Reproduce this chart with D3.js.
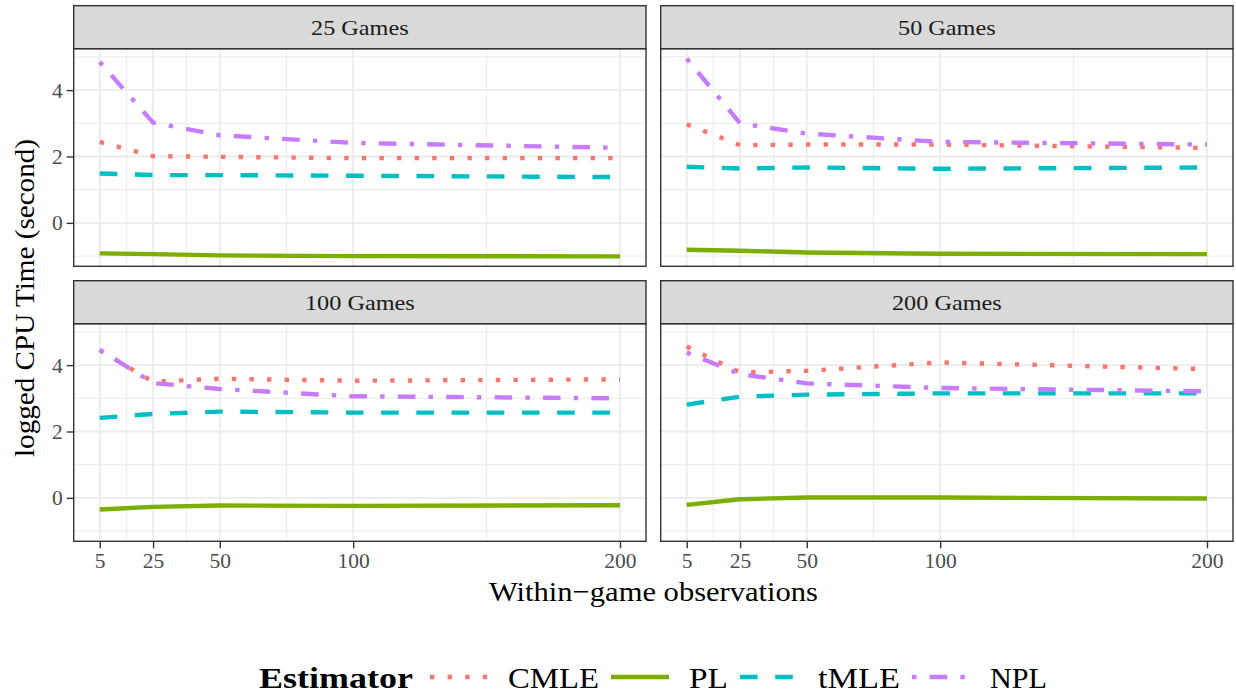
<!DOCTYPE html>
<html>
<head>
<meta charset="utf-8">
<script src="https://cdn.jsdelivr.net/npm/d3@7"></script>
<style>
  html, body { margin: 0; padding: 0; background: #fff; }
  svg { display: block; }
  text { font-family: "Liberation Serif", "Times New Roman", serif; }
</style>
</head>
<body>
<svg id="chart" width="1236" height="694"></svg>
<script>
// ---------------- data ----------------
const facets = ["25 Games", "50 Games", "100 Games", "200 Games"];
const estimators = ["CMLE", "PL", "tMLE", "NPL"];
const observations = [5, 25, 50, 100, 200];
const xTickLabels = ["5", "25", "50", "100", "200"];
const xMinorBreaks = [15, 37.5, 75, 150];
const yTickLabels = ["0", "2", "4"];
const yMinorBreaks = [-1, 1, 3, 5];

// one row per facet (25, 50, 100, 200 games), one value per observation count
const cmle = [
  [2.44, 2.01, 1.99, 1.95, 1.95],
  [2.97, 2.34, 2.36, 2.36, 2.26],
  [4.45, 3.50, 3.59, 3.53, 3.57],
  [4.56, 3.78, 3.83, 4.08, 3.88]
];
const pl = [
  [-0.92, -0.94, -0.98, -1.00, -1.01],
  [-0.81, -0.84, -0.89, -0.93, -0.94],
  [-0.35, -0.27, -0.23, -0.24, -0.22],
  [-0.21, -0.04, 0.01, 0.01, -0.02]
];
const tmle = [
  [1.49, 1.44, 1.44, 1.42, 1.38],
  [1.69, 1.64, 1.67, 1.63, 1.67],
  [2.41, 2.53, 2.60, 2.57, 2.57],
  [2.81, 3.05, 3.11, 3.15, 3.15]
];
const npl = [
  [4.85, 3.02, 2.64, 2.41, 2.26],
  [4.95, 3.00, 2.69, 2.44, 2.36],
  [4.46, 3.46, 3.28, 3.06, 3.00],
  [4.38, 3.73, 3.45, 3.31, 3.21]
];
const seriesValues = [cmle, pl, tmle, npl];

// ---------------- styles ----------------
const colors = ["#F8766D", "#7CAE00", "#00BFC4", "#C77CFF"];
const LW = 4.4;
const dashes = [
  `${LW} ${3 * LW}`,                       // dotted
  null,                                    // solid
  `${4 * LW} ${4 * LW}`,                   // dashed
  `${LW} ${3 * LW} ${4 * LW} ${3 * LW}`    // dotdash
];

// ---------------- layout ----------------
const svg = d3.select("#chart");
const colX = [73.7, 660.7];
const panelW = 572.3;
const stripTop = [5.7, 280.7];
const stripH = 43;
const panelH = 217.6;

const allVals = seriesValues.flat(2);
const yMin = d3.min(allVals), yMax = d3.max(allVals);
const yPad = (yMax - yMin) * 0.05;
const xPad = (d3.max(observations) - d3.min(observations)) * 0.05;

facets.forEach((name, fi) => {
  const col = fi % 2, row = Math.floor(fi / 2);
  const px = colX[col];
  const sy = stripTop[row];
  const py = sy + stripH;

  const x = d3.scaleLinear()
    .domain([d3.min(observations) - xPad, d3.max(observations) + xPad])
    .range([px, px + panelW]);
  const y = d3.scaleLinear()
    .domain([yMin - yPad, yMax + yPad])
    .range([py + panelH, py]);

  const g = svg.append("g");

  // panel background
  g.append("rect").attr("x", px).attr("y", py).attr("width", panelW).attr("height", panelH)
    .attr("fill", "#fff");

  // minor grid
  g.selectAll(null).data(xMinorBreaks).join("line")
    .attr("x1", d => x(d)).attr("x2", d => x(d)).attr("y1", py).attr("y2", py + panelH)
    .attr("stroke", "#EBEBEB").attr("stroke-width", 1);
  g.selectAll(null).data(yMinorBreaks).join("line")
    .attr("y1", d => y(d)).attr("y2", d => y(d)).attr("x1", px).attr("x2", px + panelW)
    .attr("stroke", "#EBEBEB").attr("stroke-width", 1);
  // major grid
  g.selectAll(null).data(observations).join("line")
    .attr("x1", d => x(d)).attr("x2", d => x(d)).attr("y1", py).attr("y2", py + panelH)
    .attr("stroke", "#EBEBEB").attr("stroke-width", 1.8);
  g.selectAll(null).data(yTickLabels.map(Number)).join("line")
    .attr("y1", d => y(d)).attr("y2", d => y(d)).attr("x1", px).attr("x2", px + panelW)
    .attr("stroke", "#EBEBEB").attr("stroke-width", 1.8);

  // series
  const clipId = "clip" + fi;
  svg.append("clipPath").attr("id", clipId).append("rect")
    .attr("x", px).attr("y", py).attr("width", panelW).attr("height", panelH);
  const line = d3.line().x((d, i) => x(observations[i])).y(d => y(d));
  estimators.forEach((est, si) => {
    g.append("path")
      .attr("d", line(seriesValues[si][fi]))
      .attr("fill", "none")
      .attr("stroke", colors[si])
      .attr("stroke-width", LW)
      .attr("stroke-linecap", "butt")
      .attr("stroke-linejoin", "round")
      .attr("stroke-dasharray", dashes[si])
      .attr("clip-path", `url(#${clipId})`);
  });

  // panel border
  g.append("rect").attr("x", px).attr("y", py).attr("width", panelW).attr("height", panelH)
    .attr("fill", "none").attr("stroke", "#333333").attr("stroke-width", 1.4);

  // strip
  g.append("rect").attr("x", px).attr("y", sy).attr("width", panelW).attr("height", stripH)
    .attr("fill", "#D9D9D9").attr("stroke", "#333333").attr("stroke-width", 1.4);
  g.append("text").attr("x", px + panelW / 2).attr("y", sy + stripH / 2 + 7.5)
    .attr("text-anchor", "middle").attr("font-size", 22).attr("fill", "#1A1A1A")
    .attr("textLength", name.length * 12.2).attr("lengthAdjust", "spacingAndGlyphs")
    .text(name);

  // y axis (left column)
  if (col === 0) {
    const ya = d3.axisLeft(y).tickValues(yTickLabels.map(Number))
      .tickFormat((d, i) => yTickLabels[i]).tickSize(7).tickPadding(4);
    const ag = g.append("g").attr("transform", `translate(${px},0)`).call(ya);
    ag.select(".domain").remove();
    ag.selectAll(".tick line").attr("stroke", "#333333").attr("stroke-width", 1.4);
    ag.selectAll(".tick text").attr("font-size", 21.5).attr("fill", "#4D4D4D")
      .attr("font-family", "Liberation Serif, serif");
  }
  // x axis (bottom row)
  if (row === 1) {
    const xa = d3.axisBottom(x).tickValues(observations)
      .tickFormat((d, i) => xTickLabels[i]).tickSize(7).tickPadding(4);
    const ag = g.append("g").attr("transform", `translate(0,${py + panelH})`).call(xa);
    ag.select(".domain").remove();
    ag.selectAll(".tick line").attr("stroke", "#333333").attr("stroke-width", 1.4);
    ag.selectAll(".tick text").attr("font-size", 21.5).attr("fill", "#4D4D4D")
      .attr("font-family", "Liberation Serif, serif");
  }
});

// axis titles
svg.append("text")
  .attr("x", 653.5).attr("y", 601)
  .attr("text-anchor", "middle").attr("font-size", 27.5).attr("fill", "#000")
  .attr("textLength", 329).attr("lengthAdjust", "spacingAndGlyphs")
  .text("Within\u2212game observations");
svg.append("text")
  .attr("transform", "translate(34,298) rotate(-90)")
  .attr("text-anchor", "middle").attr("font-size", 27.5).attr("fill", "#000")
  .attr("textLength", 318).attr("lengthAdjust", "spacingAndGlyphs")
  .text("logged CPU Time (second)");

// legend
const legY = 677;
const lg = svg.append("g");
const legTitleW = 154;
const labelWidths = [91, 39, 82, 57];
const keyW = 58, keyGap = 20, itemGap = 12, titleGap = 17;
const totalW = legTitleW + titleGap + d3.sum(labelWidths) + estimators.length * (keyW + keyGap) + (estimators.length - 1) * itemGap;
let cx = 653 - totalW / 2;
lg.append("text").attr("x", cx).attr("y", legY + 10.5)
  .attr("font-size", 29).attr("font-weight", "bold").attr("fill", "#000")
  .attr("textLength", legTitleW).attr("lengthAdjust", "spacingAndGlyphs")
  .text("Estimator");
cx += legTitleW + titleGap;
estimators.forEach((est, si) => {
  lg.append("line").attr("x1", cx).attr("x2", cx + keyW).attr("y1", legY).attr("y2", legY)
    .attr("stroke", colors[si]).attr("stroke-width", LW)
    .attr("stroke-linecap", "butt").attr("stroke-dasharray", dashes[si]);
  cx += keyW + keyGap;
  lg.append("text").attr("x", cx).attr("y", legY + 10.5)
    .attr("font-size", 29).attr("fill", "#000")
    .attr("textLength", labelWidths[si]).attr("lengthAdjust", "spacingAndGlyphs")
    .text(est);
  cx += labelWidths[si] + itemGap;
});
</script>
</body>
</html>
